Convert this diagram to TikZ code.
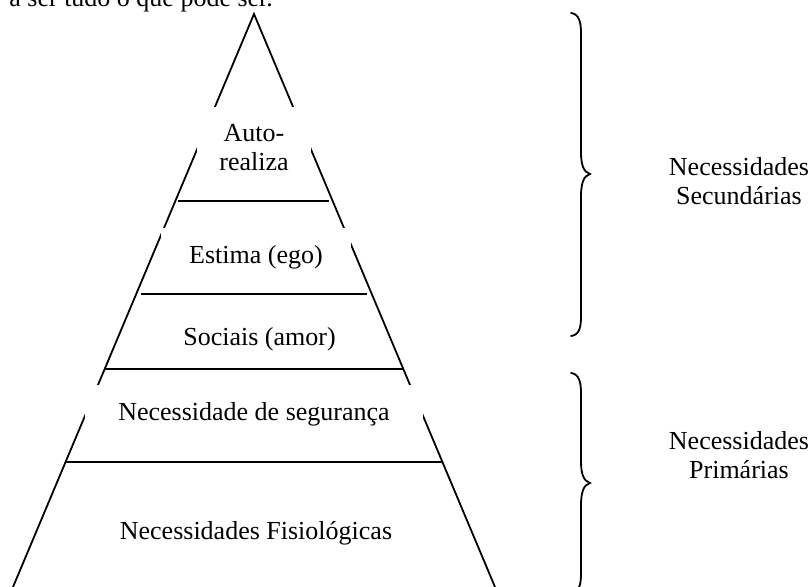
\documentclass[tikz,border=0pt]{standalone}
\usepackage{fontspec}
\setmainfont{Liberation Serif}
\usetikzlibrary{calc}
\tikzset{
  side/.style={draw=black, line width=0.9pt},
  rung/.style={draw=black, line width=0.9pt},
  tier/.style={fill=white, inner sep=0pt, align=center, font=\fontsize{13}{14.5}\selectfont},
  needs/.style={inner sep=0pt, align=center, font=\fontsize{13}{14.5}\selectfont},
  brace/.style={draw=black, line width=0.9pt, line cap=round}
}

\begin{document}
\begin{tikzpicture}[x=0.5pt, y=-0.5pt]
\useasboundingbox (0,0) rectangle (811,587);
\clip (0,0) rectangle (811,587);

% line of text above the figure (cut off)
\node[needs, anchor=base west] (caption) at (9,7) {a ser tudo o que pode ser.};

% pyramid
\coordinate (apex) at (254,14);
\coordinate (bl) at (13,587);
\coordinate (br) at (495,587);
\draw[side] (bl) -- (apex) -- (br);

% tiers (the white boxes hide parts of the sides)
\node[tier, minimum width=57pt, minimum height=40.5pt] (self) at (254,147.5) {Auto-\\realiza};
\node[tier, minimum width=95pt, minimum height=29pt] (esteem) at (256,257) {Estima (ego)};
\node[tier] (social) at (259.5,339) {Sociais (amor)};
\node[tier, minimum width=169pt, minimum height=29pt] (safety) at (254,414) {Necessidade de segurança};
\node[tier] (body) at (256,533) {Necessidades Fisiológicas};

% rungs
\draw[rung] (178,201) -- (329,201);
\draw[rung] (141,294) -- (367,294);
\draw[rung] (104,369) -- (403,369);
\draw[rung] (66,462) -- (442,462);

% braces
\draw[brace] (571,13) .. controls (579,14) and (581,22) .. (581,33) -- (581,152)
  .. controls (581,166) and (584,172) .. (590,174)
  .. controls (584,176) and (581,182) .. (581,197) -- (581,317)
  .. controls (581,328) and (579,335) .. (571,336);
\draw[brace] (571,373) .. controls (579,374) and (581,382) .. (581,393) -- (581,461)
  .. controls (581,475) and (584,481) .. (590,483)
  .. controls (584,485) and (581,491) .. (581,506) -- (581,574)
  .. controls (581,585) and (579,592) .. (571,593);

% labels
\node[needs] (upper) at (739,181) {Necessidades\\Secundárias};
\node[needs] (lower) at (739,455) {Necessidades\\Primárias};
\end{tikzpicture}
\end{document}
